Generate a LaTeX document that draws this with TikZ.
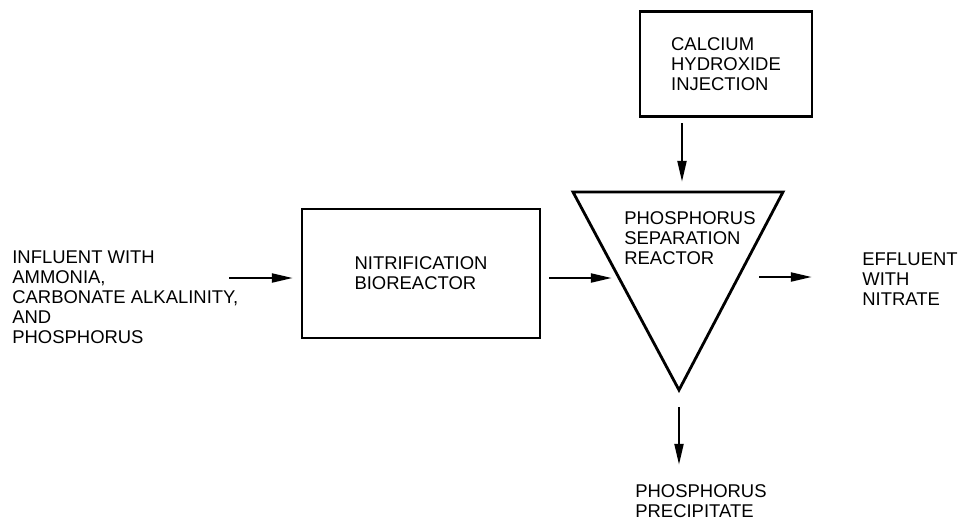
\documentclass[tikz,border=0pt]{standalone}
\usepackage{fontspec}
\setmainfont{Liberation Sans}
\usetikzlibrary{arrows.meta}
\tikzset{
  unitbox/.style={draw, line width=1.6pt, inner sep=0pt, align=left},
  flow/.style={line width=1.5pt, -{Triangle[length=12pt,width=5pt]}},
  lbl/.style={align=left, inner sep=0pt, anchor=west},
}
\begin{document}
\begin{tikzpicture}[x=0.02cm, y=-0.02cm,
    font=\fontsize{10.5}{11.4}\selectfont]
  \useasboundingbox (0,0) rectangle (958,525);
  % text at the sides
  \node[lbl] (influent) at (12,297.5)
    {INFLUENT WITH\\AMMONIA,\\CARBONATE ALKALINITY,\\AND\\PHOSPHORUS};
  \node[lbl] (effluent) at (862,279) {EFFLUENT\\WITH\\NITRATE};
  \node[lbl] (precip) at (635,501) {PHOSPHORUS\\PRECIPITATE};
  % units
  \node[unitbox, minimum width=4.76cm, minimum height=2.58cm] (nitrif)
    at (421,273.5) {NITRIFICATION\\BIOREACTOR};
  \node[unitbox, minimum width=3.44cm, minimum height=2.1cm] (calcium)
    at (726,64) {CALCIUM\\HYDROXIDE\\INJECTION};
  \coordinate (sl) at (573,192);
  \coordinate (sr) at (783,192);
  \coordinate (sb) at (679,390);
  \draw[line width=1.6pt, line join=miter] (sl) -- (sr) -- (sb) -- cycle;
  \node[lbl] (separ) at (624,238) {PHOSPHORUS\\SEPARATION\\REACTOR};
  % flows
  \coordinate (a1) at (229,278);
  \coordinate (b1) at (293,278);
  \coordinate (a2) at (549,278);
  \coordinate (b2) at (612,278);
  \coordinate (a3) at (759,277);
  \coordinate (b3) at (812,277);
  \coordinate (a4) at (682,123);
  \coordinate (b4) at (682,182);
  \coordinate (a5) at (679,407);
  \coordinate (b5) at (679,465);
  \draw[flow] (a1) -- (b1);
  \draw[flow] (a2) -- (b2);
  \draw[flow] (a3) -- (b3);
  \draw[flow] (a4) -- (b4);
  \draw[flow] (a5) -- (b5);
\end{tikzpicture}
\end{document}
